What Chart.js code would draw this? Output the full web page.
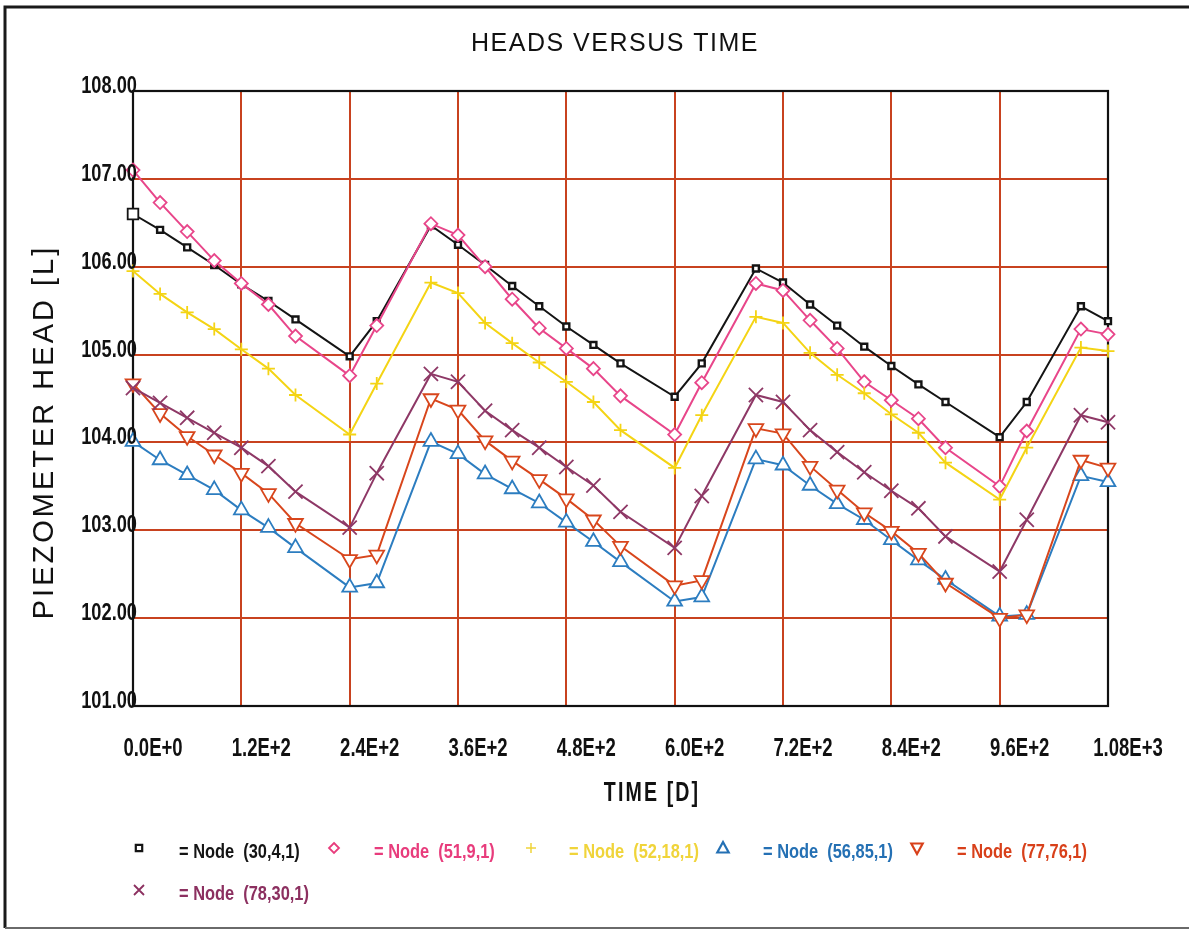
<!DOCTYPE html>
<html>
<head>
<meta charset="utf-8">
<title>Heads versus time</title>
<script src="https://cdn.jsdelivr.net/npm/chart.js@4/dist/chart.umd.min.js"></script>
<style>
  html, body { margin: 0; padding: 0; background: #fff; }
  #chart { display: block; }
</style>
</head>
<body>
<canvas id="chart" width="1189" height="932"></canvas>
<script>
// Simulation output times [d]
const times = [0, 30, 60, 90, 120, 150, 180, 240, 270, 330, 360, 390, 420, 450, 480, 510, 540,
               600, 630, 690, 720, 750, 780, 810, 840, 870, 900, 960, 990, 1050, 1080];

// Piezometer heads [L] per observation node
const node_30_4_1  = [106.60, 106.42, 106.22, 106.02, 105.80, 105.61, 105.40, 104.98, 105.38, 106.47, 106.25,
                      106.02, 105.78, 105.55, 105.32, 105.11, 104.90, 104.52, 104.90, 105.98, 105.82, 105.57,
                      105.33, 105.09, 104.87, 104.66, 104.46, 104.06, 104.46, 105.55, 105.38];
const node_51_9_1  = [107.10, 106.73, 106.40, 106.07, 105.81, 105.57, 105.21, 104.76, 105.33, 106.49, 106.36,
                      106.00, 105.63, 105.30, 105.07, 104.84, 104.53, 104.09, 104.68, 105.81, 105.73, 105.39,
                      105.07, 104.69, 104.48, 104.27, 103.94, 103.50, 104.13, 105.29, 105.23];
const node_52_18_1 = [105.95, 105.69, 105.48, 105.29, 105.06, 104.84, 104.54, 104.09, 104.67, 105.82, 105.70,
                      105.36, 105.13, 104.91, 104.69, 104.46, 104.14, 103.71, 104.31, 105.43, 105.36, 105.02,
                      104.77, 104.56, 104.32, 104.11, 103.77, 103.35, 103.94, 105.08, 105.04];
const node_56_85_1 = [104.01, 103.80, 103.63, 103.46, 103.23, 103.03, 102.80, 102.35, 102.40, 104.01, 103.87,
                      103.64, 103.47, 103.31, 103.09, 102.87, 102.64, 102.19, 102.24, 103.81, 103.74, 103.51,
                      103.30, 103.12, 102.89, 102.66, 102.44, 102.02, 102.04, 103.62, 103.55];
const node_77_76_1 = [104.67, 104.33, 104.07, 103.86, 103.65, 103.42, 103.08, 102.67, 102.72, 104.50, 104.37,
                      104.02, 103.79, 103.58, 103.36, 103.12, 102.82, 102.37, 102.43, 104.16, 104.10, 103.73,
                      103.46, 103.20, 102.99, 102.74, 102.40, 102.00, 102.04, 103.80, 103.71];
const node_78_30_1 = [104.62, 104.45, 104.28, 104.11, 103.94, 103.73, 103.44, 103.03, 103.65, 104.78, 104.69,
                      104.36, 104.14, 103.94, 103.72, 103.51, 103.21, 102.80, 103.39, 104.54, 104.46, 104.14,
                      103.89, 103.66, 103.45, 103.25, 102.93, 102.53, 103.12, 104.31, 104.23];

// Axis ticks
const xTickValues = [0, 120, 240, 360, 480, 600, 720, 840, 960, 1080];
const xTickLabels = ['0.0E+0', '1.2E+2', '2.4E+2', '3.6E+2', '4.8E+2', '6.0E+2', '7.2E+2', '8.4E+2', '9.6E+2', '1.08E+3'];
const yTickValues = [101, 102, 103, 104, 105, 106, 107, 108];
const yTickLabels = ['101.00', '102.00', '103.00', '104.00', '105.00', '106.00', '107.00', '108.00'];

// Legend captions
const nodeNames = ['(30,4,1)', '(51,9,1)', '(52,18,1)', '(56,85,1)', '(77,76,1)', '(78,30,1)'];

const SANS = "'Liberation Sans', Arial, sans-serif";
const GRID = '#c8421f';

const styles = [
  { color: '#141414', text: '#141414', point: 'rect',     radius: 4.2, rot: 0,   bw: 2.4, fill: '#ffffff' },
  { color: '#e8468a', text: '#e83c7c', point: 'rectRot',  radius: 6.5, rot: 0,   bw: 1.8, fill: '#ffffff' },
  { color: '#f4d414', text: '#f0d43a', point: 'cross',    radius: 6.5, rot: 0,   bw: 1.8, fill: '#ffffff' },
  { color: '#2c7dc0', text: '#2470b4', point: 'triangle', radius: 8.5, rot: 0,   bw: 1.8, fill: '#ffffff' },
  { color: '#d8461c', text: '#d8401a', point: 'triangle', radius: 8.5, rot: 180, bw: 1.8, fill: '#ffffff' },
  { color: '#8e3866', text: '#8c3060', point: 'crossRot', radius: 10,  rot: 0,   bw: 1.8, fill: '#ffffff' }
];
const seriesValues = [node_30_4_1, node_51_9_1, node_52_18_1, node_56_85_1, node_77_76_1, node_78_30_1];

const datasets = seriesValues.map((vals, i) => {
  const s = styles[i];
  const radii = vals.map((v, k) => (i === 0 && k === 0) ? 7.5 : s.radius);
  const bws = vals.map((v, k) => (i === 0 && k === 0) ? 1.8 : s.bw);
  return {
    label: 'Node ' + nodeNames[i],
    data: vals.map((v, k) => ({ x: times[k], y: v })),
    borderColor: s.color,
    borderWidth: 2,
    pointStyle: s.point,
    pointRotation: s.rot,
    pointRadius: radii,
    pointBorderWidth: bws,
    pointBorderColor: s.color,
    pointBackgroundColor: s.fill,
    tension: 0,
    fill: false,
    clip: 20,
    order: 6 - i
  };
});

// Condensed text: regular face squeezed horizontally
function narrowText(ctx, text, x, y, font, sx, align, baseline, spacing) {
  ctx.save();
  ctx.font = font;
  ctx.letterSpacing = (spacing || 0) + 'px';
  ctx.textAlign = align;
  ctx.textBaseline = baseline;
  ctx.translate(x, y);
  ctx.scale(sx, 1);
  ctx.fillText(text, 0, 0);
  ctx.restore();
}

// Small marker painter used by the legend
function drawMarker(ctx, style, x, y, r, color, lw) {
  ctx.save();
  ctx.strokeStyle = color;
  ctx.lineWidth = lw;
  ctx.beginPath();
  if (style === 'rect') {
    ctx.rect(x - r, y - r, 2 * r, 2 * r);
  } else if (style === 'rectRot') {
    ctx.moveTo(x, y - r); ctx.lineTo(x + r, y); ctx.lineTo(x, y + r); ctx.lineTo(x - r, y); ctx.closePath();
  } else if (style === 'cross') {
    ctx.moveTo(x - r, y); ctx.lineTo(x + r, y); ctx.moveTo(x, y - r); ctx.lineTo(x, y + r);
  } else if (style === 'up') {
    ctx.moveTo(x, y - r); ctx.lineTo(x + r * 0.95, y + r * 0.75); ctx.lineTo(x - r * 0.95, y + r * 0.75); ctx.closePath();
  } else if (style === 'down') {
    ctx.moveTo(x, y + r); ctx.lineTo(x + r * 0.95, y - r * 0.75); ctx.lineTo(x - r * 0.95, y - r * 0.75); ctx.closePath();
  } else if (style === 'x') {
    ctx.moveTo(x - r, y - r); ctx.lineTo(x + r, y + r); ctx.moveTo(x + r, y - r); ctx.lineTo(x - r, y + r);
  }
  ctx.stroke();
  ctx.restore();
}

const decorations = {
  id: 'decorations',
  beforeDatasetsDraw(chart) {
    const { ctx, chartArea: a } = chart;
    ctx.save();
    ctx.strokeStyle = '#111';
    ctx.lineWidth = 2.2;
    ctx.strokeRect(a.left, a.top, a.right - a.left, a.bottom - a.top);
    ctx.restore();
  },
  afterDraw(chart) {
    const ctx = chart.ctx;
    const xs = chart.scales.x, ys = chart.scales.y;
    ctx.save();

    // page frame
    ctx.strokeStyle = '#1a1a1a';
    ctx.lineWidth = 3;
    ctx.beginPath();
    ctx.moveTo(1189, 7); ctx.lineTo(5, 7); ctx.lineTo(5, 928);
    ctx.stroke();
    ctx.strokeStyle = '#6a6a6a';
    ctx.lineWidth = 2;
    ctx.beginPath();
    ctx.moveTo(5, 928); ctx.lineTo(1189, 928);
    ctx.stroke();

    ctx.fillStyle = '#111';

    // tick labels placed from the scales
    xs.ticks.forEach((t, i) => {
      narrowText(ctx, xTickLabels[i], xs.getPixelForValue(t.value) + 20, 756,
                 'bold 25px ' + SANS, 0.74, 'center', 'alphabetic', 0);
    });
    ys.ticks.forEach((t, i) => {
      narrowText(ctx, yTickLabels[i], 137, ys.getPixelForValue(t.value) + 2,
                 'bold 24px ' + SANS, 0.76, 'right', 'alphabetic', 0);
    });

    // chart title
    narrowText(ctx, 'HEADS VERSUS TIME', 615, 44, '25px ' + SANS, 1, 'center', 'middle', 1.5);

    // y-axis title
    ctx.save();
    ctx.translate(45, 432);
    ctx.rotate(-Math.PI / 2);
    narrowText(ctx, 'PIEZOMETER HEAD [L]', 0, 0, '29px ' + SANS, 1, 'center', 'middle', 3);
    ctx.restore();

    // x-axis title
    narrowText(ctx, 'TIME [D]', 652, 793, 'bold 28px ' + SANS, 0.7, 'center', 'middle', 3);

    // legend
    const legendPos = [
      { mx: 139, tx: 179, y: 852, m: 'rect',    r: 3.2, lw: 2.2 },
      { mx: 334, tx: 374, y: 852, m: 'rectRot', r: 5,   lw: 1.8 },
      { mx: 531, tx: 569, y: 852, m: 'cross',   r: 5,   lw: 1.5 },
      { mx: 723, tx: 763, y: 852, m: 'up',      r: 6,   lw: 2.2 },
      { mx: 917, tx: 957, y: 852, m: 'down',    r: 6,   lw: 2.2 },
      { mx: 139, tx: 179, y: 894, m: 'x',       r: 5,   lw: 1.8 }
    ];
    legendPos.forEach((p, i) => {
      const s = styles[i];
      drawMarker(ctx, p.m, p.mx, p.y - 4, p.r, s.text, p.lw);
      ctx.fillStyle = s.text;
      narrowText(ctx, '= Node  ' + nodeNames[i], p.tx, p.y, 'bold 20px ' + SANS, 0.82, 'left', 'middle', 0);
    });
    ctx.restore();
  }
};

new Chart(document.getElementById('chart'), {
  type: 'line',
  data: { datasets },
  options: {
    responsive: false,
    animation: false,
    events: [],
    layout: { padding: { left: 33, right: 81, top: 91, bottom: 166 } },
    plugins: {
      legend: { display: false },
      title: { display: false },
      tooltip: { enabled: false }
    },
    scales: {
      x: {
        type: 'linear',
        min: 0,
        max: 1080,
        afterBuildTicks: s => { s.ticks = xTickValues.map(v => ({ value: v })); },
        afterFit: s => { s.height = 60; },
        ticks: { display: false, autoSkip: false, maxRotation: 0 },
        grid: { color: GRID, lineWidth: 2, drawTicks: false },
        border: { display: false }
      },
      y: {
        min: 101,
        max: 108,
        afterBuildTicks: s => { s.ticks = yTickValues.map(v => ({ value: v })); },
        afterFit: s => { s.width = 100; },
        ticks: { display: false },
        grid: { color: GRID, lineWidth: 2, drawTicks: false },
        border: { display: false }
      }
    }
  },
  plugins: [decorations]
});
</script>
</body>
</html>
